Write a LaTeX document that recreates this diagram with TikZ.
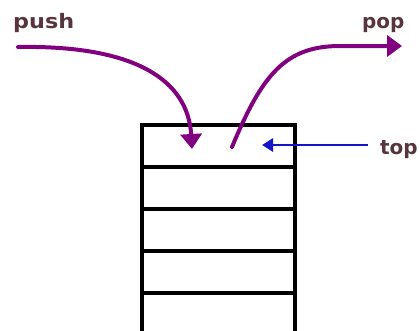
\documentclass[tikz,border=0pt]{standalone}
\usepackage{fontspec}
\setmainfont{DejaVu Sans}
\usetikzlibrary{arrows.meta}
\definecolor{labelink}{RGB}{88,52,62}
\definecolor{flow}{RGB}{128,0,128}
\definecolor{pointer}{RGB}{20,20,200}
\tikzset{
  cell/.style={draw=black, line width=3.5bp, minimum width=153bp, minimum height=42bp,
               inner sep=0pt, anchor=north west, fill=white},
  label/.style={text=labelink, font=\fontsize{20}{22}\selectfont\bfseries,
                inner sep=0pt, anchor=base west},
  flowarrow/.style={draw=flow, line width=4bp, line cap=round,
                    -{Triangle[length=15bp, width=21bp]}},
  pointerarrow/.style={draw=pointer, line width=2.8bp,
                       -{Triangle[length=11bp, width=13bp]}}
}
\begin{document}
\begin{tikzpicture}[x=1bp, y=-1bp]
  \useasboundingbox (0,0) rectangle (420,331);
  \fill[white] (0,0) rectangle (420,331);

  % stack cells, top to bottom
  \node[cell] (c1) at (140,123) {};
  \node[cell] (c2) at (140,165) {};
  \node[cell] (c3) at (140,207) {};
  \node[cell] (c4) at (140,249) {};
  \node[cell] (c5) at (140,291) {};

  % labels
  \node[label] (push) at (13,28) {\scalebox{1.12}[1]{push}};
  \node[label] (pop) at (362,28) {pop};
  \node[label] (top) at (380,154) {top};

  % arrow ends
  \coordinate (pushtail) at (18,47);
  \coordinate (pushhead) at (192,149);
  \coordinate (poptail) at (232,147);
  \coordinate (pophead) at (402,46);
  \coordinate (toptail) at (368,145);
  \coordinate (tophead) at (262,145);

  % push: enters the top cell
  \draw[flowarrow] (pushtail) .. controls (135,45) and (188,80) .. (pushhead);
  % pop: leaves the top cell
  \draw[flowarrow] (poptail) .. controls (262,75) and (285,46) .. (340,46) -- (pophead);
  % top pointer
  \draw[pointerarrow] (toptail) -- (tophead);
\end{tikzpicture}
\end{document}
